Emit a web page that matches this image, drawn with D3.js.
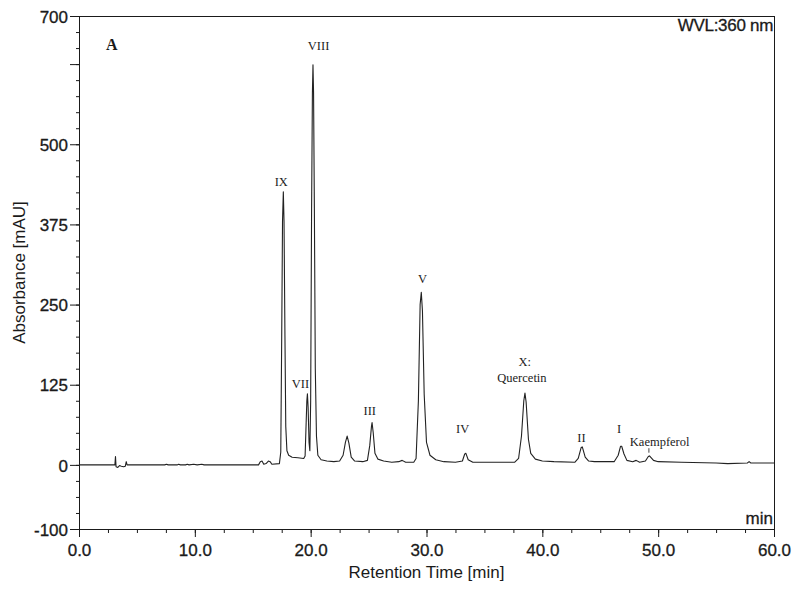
<!DOCTYPE html>
<html>
<head>
<meta charset="utf-8">
<script src="https://cdn.jsdelivr.net/npm/d3@7"></script>
<style>
  body { margin: 0; background: #fff; }
  text { font-family: "Liberation Sans", Arial, sans-serif; }
  .sans { stroke: #1a1a1a; stroke-width: 0.3px; }
  .peak { font-family: "Liberation Serif", "Times New Roman", serif; font-size: 12.5px; fill: #222; }
</style>
</head>
<body>
<div id="chart"></div>
<script>
// chromatogram trace (retention time in min, absorbance in mAU)
var rtTimes = [0, 3.1, 3.15, 3.2, 3.35, 3.5, 3.65, 3.85, 4.0, 4.08, 4.15,
  7.4, 7.55, 7.7, 8.5, 8.6, 8.75, 9.2, 9.35, 9.5, 9.9, 10.2, 10.6, 10.8,
  15.5, 15.65, 15.8, 15.95, 16.15, 16.35, 16.5, 16.65,
  17.3, 17.42, 17.5, 17.57, 17.64, 17.7, 17.78, 17.85, 17.95, 18.1, 18.4, 18.9,
  19.4, 19.52, 19.6, 19.67, 19.72, 19.78, 19.86, 19.93,
  20.0, 20.08, 20.15, 20.2, 20.25, 20.32, 20.4, 20.5, 20.62, 20.9, 21.4, 22.0,
  22.5, 22.8, 23.0, 23.15, 23.3, 23.5, 23.8, 24.5, 24.9, 25.1, 25.25, 25.3, 25.4,
  25.55, 25.8, 26.3, 27.0, 27.6, 27.9, 28.2, 28.9,
  29.1, 29.3, 29.45, 29.55, 29.65, 29.8, 30.0, 30.3, 30.8, 31.5, 32.5,
  33.1, 33.3, 33.4, 33.6, 34.0, 37.6, 37.95, 38.2, 38.4, 38.5, 38.6, 38.8, 39.0,
  39.4, 40.0, 41.0, 42.8, 43.1, 43.35, 43.45, 43.7, 44.0, 44.5,
  46.2, 46.55, 46.75, 46.85, 47.05, 47.3, 47.8, 48.1, 48.4, 48.9, 49.15, 49.25,
  49.6, 50.0, 52.0, 55.0, 56.0, 57.7, 57.85, 58.0, 60];
var absValues = [0, 0, 13, -3, -4, -1, -2, -3, -2, 5, 0,
  0, 1, 0, 0, 1, 0, 0, 1, 0, 1, 0, 1, 0,
  0, 5, 6, 1, 2, 6, 5, 1,
  2, 20, 200, 380, 426, 380, 200, 60, 22, 15, 12, 11,
  10, 14, 60, 100, 111, 90, 35, 22,
  100, 400, 580, 624, 580, 400, 150, 45, 15, 8, 6, 5,
  6, 15, 35, 45, 34, 12, 6, 5, 7, 30, 60, 66, 50,
  18, 9, 6, 4, 5, 7, 4, 4,
  10, 100, 250, 269, 240, 110, 35, 15, 8, 5, 4,
  6, 17, 18, 8, 4, 4, 10, 45, 100, 112, 98, 40, 18,
  9, 6, 5, 4, 10, 27, 28, 12, 6, 5,
  5, 15, 29, 29, 17, 7, 5, 7, 4, 6, 13, 14,
  7, 5, 4, 3, 2, 3, 5, 3, 3];

// peak annotations: text, time and level where the label sits
var peakNames = ["IX", "VII", "VIII", "III", "V", "IV", "X:", "Quercetin", "II", "I", "Kaempferol"];
var peakLabelTimes = [17.46, 19.12, 20.68, 25.1, 29.65, 33.12, 38.48, 38.24, 43.38, 46.62, 50.13];
var peakLabelLevels = [435, 120, 647, 78, 284, 50, 154, 129, 36, 50, 30];

var xTickLabels = [0, 10, 20, 30, 40, 50, 60];
var yTickLabels = [-100, 0, 125, 250, 375, 500, 700];
var yMajorTicks = [-100, 0, 125, 250, 375, 500, 625, 700];

var width = 800, height = 593;
var margin = {top: 16, right: 26, bottom: 64, left: 79};

var svg = d3.select("#chart").append("svg")
    .attr("width", width)
    .attr("height", height);

svg.append("rect").attr("width", width).attr("height", height).attr("fill", "#fff");

var x = d3.scaleLinear().domain([0, 60]).range([margin.left, width - margin.right]);
var y = d3.scaleLinear().domain([-100, 700]).range([height - margin.bottom, margin.top]);

var ink = "#1a1a1a";

// minor ticks
var xMinor = svg.append("g")
    .attr("transform", "translate(0," + y(-100) + ")")
    .call(d3.axisBottom(x).tickValues(d3.range(0, 60.01, 2.5)).tickSize(4).tickFormat(""));
var yMinor = svg.append("g")
    .attr("transform", "translate(" + x(0) + ",0)")
    .call(d3.axisLeft(y).tickValues(d3.range(-100, 700.1, 25)).tickSize(3).tickFormat(""));

// major ticks + labels
var xAxis = svg.append("g")
    .attr("transform", "translate(0," + y(-100) + ")")
    .call(d3.axisBottom(x).tickValues(xTickLabels).tickSize(8).tickFormat(d3.format(".1f")));
var yAxis = svg.append("g")
    .attr("transform", "translate(" + x(0) + ",0)")
    .call(d3.axisLeft(y).tickValues(yMajorTicks).tickSize(9)
      .tickFormat(function(d) { return yTickLabels.indexOf(d) >= 0 ? d : ""; }));

[xMinor, yMinor, xAxis, yAxis].forEach(function(g) {
  g.select(".domain").remove();
  g.selectAll("line").attr("stroke", ink);
  g.selectAll("text")
    .attr("class", "sans")
    .attr("fill", ink)
    .style("font-family", "'Liberation Sans', Arial, sans-serif")
    .style("font-size", "17px");
});
xAxis.selectAll("text").attr("dy", "1.05em").attr("y", 9);
yAxis.selectAll("text").attr("x", -11).attr("dy", "0.36em");

// frame
svg.append("rect")
    .attr("x", x(0) + 0.5)
    .attr("y", y(700) + 0.5)
    .attr("width", x(60) - x(0))
    .attr("height", y(-100) - y(700))
    .attr("fill", "none")
    .attr("stroke", ink)
    .attr("stroke-width", 1);

// trace
var line = d3.line()
    .x(function(d, i) { return x(rtTimes[i]); })
    .y(function(d, i) { return y(absValues[i]); });

svg.append("path")
    .datum(rtTimes)
    .attr("d", line)
    .attr("fill", "none")
    .attr("stroke", "#222")
    .attr("stroke-width", 1.1)
    .attr("stroke-linejoin", "round");

// peak labels
svg.selectAll("text.peak")
    .data(peakNames)
    .enter().append("text")
    .attr("class", "peak")
    .attr("x", function(d, i) { return x(peakLabelTimes[i]); })
    .attr("y", function(d, i) { return y(peakLabelLevels[i]); })
    .attr("text-anchor", "middle")
    .text(function(d) { return d; });

// little marker under Kaempferol
svg.append("line")
    .attr("x1", x(49.2)).attr("x2", x(49.2))
    .attr("y1", y(26)).attr("y2", y(19))
    .attr("stroke", "#444");

// panel letter and texts
svg.append("text")
    .attr("x", 106).attr("y", 50)
    .style("font-family", "'Liberation Serif', 'Times New Roman', serif")
    .style("font-size", "16px")
    .style("font-weight", "bold")
    .attr("fill", ink)
    .text("A");

svg.append("text")
    .attr("class", "sans")
    .attr("x", x(60) - 1).attr("y", 31)
    .attr("text-anchor", "end")
    .style("font-size", "17px")
    .style("letter-spacing", "-0.3px")
    .attr("fill", ink)
    .text("WVL:360 nm");

svg.append("text")
    .attr("class", "sans")
    .attr("x", x(60) - 1).attr("y", 524)
    .attr("text-anchor", "end")
    .style("font-size", "17px")
    .attr("fill", ink)
    .text("min");

svg.append("text")
    .attr("x", (x(0) + x(60)) / 2).attr("y", 578)
    .attr("text-anchor", "middle")
    .style("font-size", "17px")
    .attr("fill", ink)
    .text("Retention Time [min]");

svg.append("text")
    .attr("transform", "translate(25," + (y(-100) + y(700)) / 2 + ") rotate(-90)")
    .attr("text-anchor", "middle")
    .style("font-size", "17px")
    .attr("fill", ink)
    .text("Absorbance [mAU]");
</script>
</body>
</html>
